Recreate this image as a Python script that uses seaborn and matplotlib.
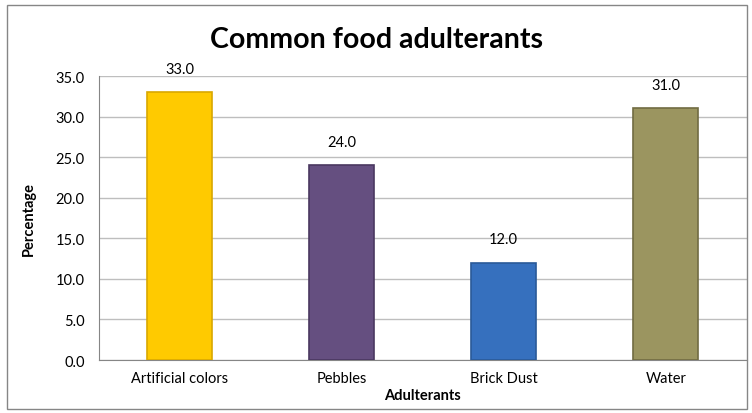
import matplotlib
matplotlib.use("Agg")
import matplotlib.pyplot as plt
import seaborn as sns
import pandas as pd
from matplotlib.patches import Rectangle

categorias = ["Artificial colors", "Pebbles", "Brick Dust", "Water"]
porcentajes = [33.0, 24.0, 12.0, 31.0]
colores = ["#FFCA00", "#654F80", "#3670BE", "#9B9560"]
bordes = ["#D9A800", "#4A3860", "#2A5A98", "#716C42"]
ticks_y = [0, 5, 10, 15, 20, 25, 30, 35]

sns.set_style("white")
plt.rcParams["font.family"] = ["Lato", "DejaVu Sans"]

df = pd.DataFrame({"Adulterants": categorias, "Percentage": porcentajes})

fig = plt.figure(figsize=(7.52, 4.14), dpi=100)
ax = fig.add_axes([0.131, 0.128, 0.862, 0.686])

sns.barplot(data=df, x="Adulterants", y="Percentage", hue="Adulterants",
            palette=colores, saturation=1, width=0.4, legend=False, ax=ax, zorder=3)

for barra, borde in zip(ax.patches, bordes):
    barra.set_edgecolor(borde)
    barra.set_linewidth(1.2)

for barra, valor in zip(ax.patches, porcentajes):
    ax.text(barra.get_x() + barra.get_width() / 2, valor + 2.9, f"{valor:.1f}",
            ha="center", va="center", fontsize=10.5, color="black", clip_on=False)

ax.set_ylim(0, 35)
ax.set_xlim(-0.5, 3.5)
ax.set_yticks(ticks_y)
ax.set_yticklabels([f"{t:.1f}" for t in ticks_y])
ax.yaxis.grid(True, color="#BEBEBE", linewidth=1, zorder=0)
ax.set_axisbelow(True)
for lado in ["top", "right"]:
    ax.spines[lado].set_visible(False)
ax.spines["left"].set_color("#868686")
ax.spines["bottom"].set_color("#868686")
ax.tick_params(axis="y", length=4, color="#868686", labelsize=10.5, labelcolor="black", pad=6)
ax.tick_params(axis="x", length=0, labelsize=10.5, labelcolor="black", pad=8)

ax.set_xlabel("Adulterants", fontweight="bold", fontsize=10.5, labelpad=2, color="black")
ax.set_ylabel("Percentage", fontweight="bold", fontsize=10.5, labelpad=14, color="black")
fig.suptitle("Common food adulterants", fontweight="bold", fontsize=20.5, y=0.935, color="black")

fig.patches.append(Rectangle((0.009, 0.01), 0.985, 0.975, transform=fig.transFigure,
                             fill=False, edgecolor="#868686", linewidth=1))

fig.savefig("out.png", dpi=100, facecolor="white")
